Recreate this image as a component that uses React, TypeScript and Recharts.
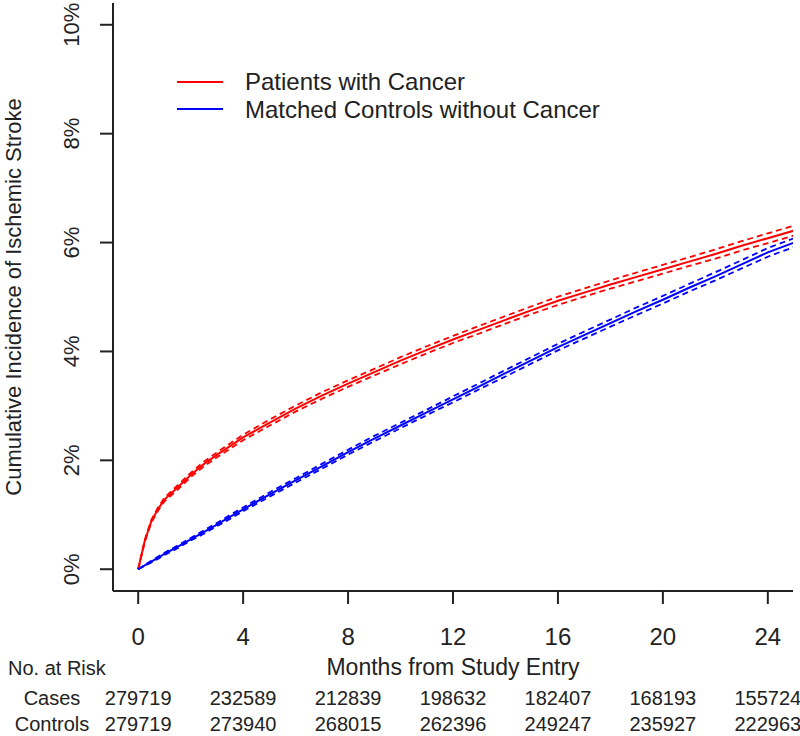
import { ComposedChart, Line, XAxis, YAxis } from 'recharts';

// months from study entry at which the curves were read
const months = [0, 0.25, 0.5, 0.75, 1, 1.5, 2, 2.5, 3, 3.5, 4, 5, 6, 7, 8, 9, 10, 11, 12, 13, 14, 15, 16, 17, 18, 19, 20, 21, 22, 23, 24, 25];

// cumulative incidence (%)
const cancer = [0, 0.52, 0.88, 1.1, 1.28, 1.5, 1.73, 1.93, 2.1, 2.26, 2.42, 2.69, 2.95, 3.19, 3.41, 3.62, 3.83, 4.03, 4.22, 4.4, 4.58, 4.76, 4.93, 5.08, 5.23, 5.37, 5.51, 5.65, 5.79, 5.94, 6.08, 6.22];
const controls = [0, 0.07, 0.14, 0.21, 0.28, 0.41, 0.55, 0.68, 0.82, 0.96, 1.1, 1.37, 1.63, 1.89, 2.15, 2.4, 2.64, 2.88, 3.12, 3.36, 3.6, 3.84, 4.08, 4.3, 4.52, 4.74, 4.95, 5.17, 5.38, 5.6, 5.82, 6.0];

// half width of the confidence band (%)
const cancerCI = [0, 0.02, 0.025, 0.03, 0.035, 0.04, 0.04, 0.045, 0.045, 0.05, 0.05, 0.055, 0.055, 0.06, 0.06, 0.06, 0.065, 0.065, 0.065, 0.07, 0.07, 0.07, 0.075, 0.075, 0.075, 0.08, 0.08, 0.08, 0.085, 0.085, 0.09, 0.09];
const controlsCI = [0, 0.01, 0.015, 0.02, 0.02, 0.025, 0.025, 0.03, 0.03, 0.035, 0.035, 0.04, 0.04, 0.045, 0.045, 0.05, 0.05, 0.05, 0.055, 0.055, 0.06, 0.06, 0.06, 0.065, 0.065, 0.07, 0.07, 0.07, 0.075, 0.075, 0.08, 0.08];

// number at risk table
const tickMonths = [0, 4, 8, 12, 16, 20, 24];
const casesAtRisk = [279719, 232589, 212839, 198632, 182407, 168193, 155724];
const controlsAtRisk = [279719, 273940, 268015, 262396, 249247, 235927, 222963];

const yTicks = [0, 2, 4, 6, 8, 10];

const data = months.map((m, i) => ({
  m,
  cancer: cancer[i],
  cancerLo: cancer[i] - cancerCI[i],
  cancerHi: cancer[i] + cancerCI[i],
  controls: controls[i],
  controlsLo: controls[i] - controlsCI[i],
  controlsHi: controls[i] + controlsCI[i],
}));

const FONT = '"Liberation Sans", Arial, sans-serif';
const RED = '#ff0000';
const BLUE = '#0000ff';
const INK = '#222';

function XTick({ x, y, payload }: any) {
  const i = tickMonths.indexOf(payload.value);
  return (
    <g fontFamily={FONT} fill={INK}>
      <text x={x} y={y + 39} textAnchor="middle" fontSize={24}>
        {payload.value}
      </text>
      <text x={x} y={y + 99} textAnchor="middle" fontSize={20}>
        {casesAtRisk[i]}
      </text>
      <text x={x} y={y + 125} textAnchor="middle" fontSize={20}>
        {controlsAtRisk[i]}
      </text>
    </g>
  );
}

function YTick({ x, y, payload }: any) {
  const bx = x - 19;
  return (
    <text
      x={bx}
      y={y}
      transform={`rotate(-90, ${bx}, ${y})`}
      textAnchor="middle"
      fontSize={22}
      fontFamily={FONT}
      fill={INK}
    >
      {payload.value}%
    </text>
  );
}

function XTitle({ viewBox }: any) {
  const { x, y, width } = viewBox;
  return (
    <g fontFamily={FONT} fill={INK}>
      <text x={x + width / 2} y={y + 84} textAnchor="middle" fontSize={23}>
        Months from Study Entry
      </text>
      <text x={8} y={y + 84} fontSize={20}>No. at Risk</text>
      <text x={52} y={y + 114} textAnchor="middle" fontSize={20}>Cases</text>
      <text x={52} y={y + 140} textAnchor="middle" fontSize={20}>Controls</text>
    </g>
  );
}

function YTitle({ viewBox }: any) {
  const { x, y, height } = viewBox;
  const bx = x + 21;
  const cy = y + height / 2;
  return (
    <text
      x={bx}
      y={cy}
      transform={`rotate(-90, ${bx}, ${cy})`}
      textAnchor="middle"
      fontSize={22}
      fontFamily={FONT}
      fill={INK}
    >
      Cumulative Incidence of Ischemic Stroke
    </text>
  );
}

const legendItems = [
  { label: 'Patients with Cancer', color: RED },
  { label: 'Matched Controls without Cancer', color: BLUE },
];

export default function App() {
  return (
    <div style={{ position: 'absolute', left: 0, top: 0, width: 800, height: 736, background: '#fff', fontFamily: FONT }}>
      <ComposedChart width={800} height={736} data={data} margin={{ top: 3, right: 7, bottom: 0, left: 0 }}>
        <XAxis
          dataKey="m"
          type="number"
          domain={[-0.96, 24.96]}
          ticks={tickMonths}
          interval={0}
          allowDataOverflow
          height={145}
          tickSize={13}
          axisLine={{ stroke: INK, strokeWidth: 2 }}
          tickLine={{ stroke: INK, strokeWidth: 2 }}
          tick={<XTick />}
          label={<XTitle />}
        />
        <YAxis
          type="number"
          domain={[-0.4, 10.4]}
          ticks={yTicks}
          interval={0}
          allowDataOverflow
          width={113}
          tickSize={13}
          axisLine={{ stroke: INK, strokeWidth: 2 }}
          tickLine={{ stroke: INK, strokeWidth: 2 }}
          tick={<YTick />}
          label={<YTitle />}
        />
        <Line dataKey="cancerHi" stroke={RED} strokeWidth={1.8} strokeDasharray="6 4" dot={false} isAnimationActive={false} />
        <Line dataKey="cancerLo" stroke={RED} strokeWidth={1.8} strokeDasharray="6 4" dot={false} isAnimationActive={false} />
        <Line dataKey="cancer" stroke={RED} strokeWidth={2} dot={false} isAnimationActive={false} />
        <Line dataKey="controlsHi" stroke={BLUE} strokeWidth={1.8} strokeDasharray="6 4" dot={false} isAnimationActive={false} />
        <Line dataKey="controlsLo" stroke={BLUE} strokeWidth={1.8} strokeDasharray="6 4" dot={false} isAnimationActive={false} />
        <Line dataKey="controls" stroke={BLUE} strokeWidth={2} dot={false} isAnimationActive={false} />
      </ComposedChart>
      <div style={{ position: 'absolute', left: 177, top: 68 }}>
        {legendItems.map((item) => (
          <div key={item.label} style={{ display: 'flex', alignItems: 'center', height: 27.5 }}>
            <div style={{ width: 46, height: 2, background: item.color, marginRight: 22 }} />
            <span style={{ fontSize: 24, color: INK, lineHeight: '27.5px' }}>{item.label}</span>
          </div>
        ))}
      </div>
    </div>
  );
}
